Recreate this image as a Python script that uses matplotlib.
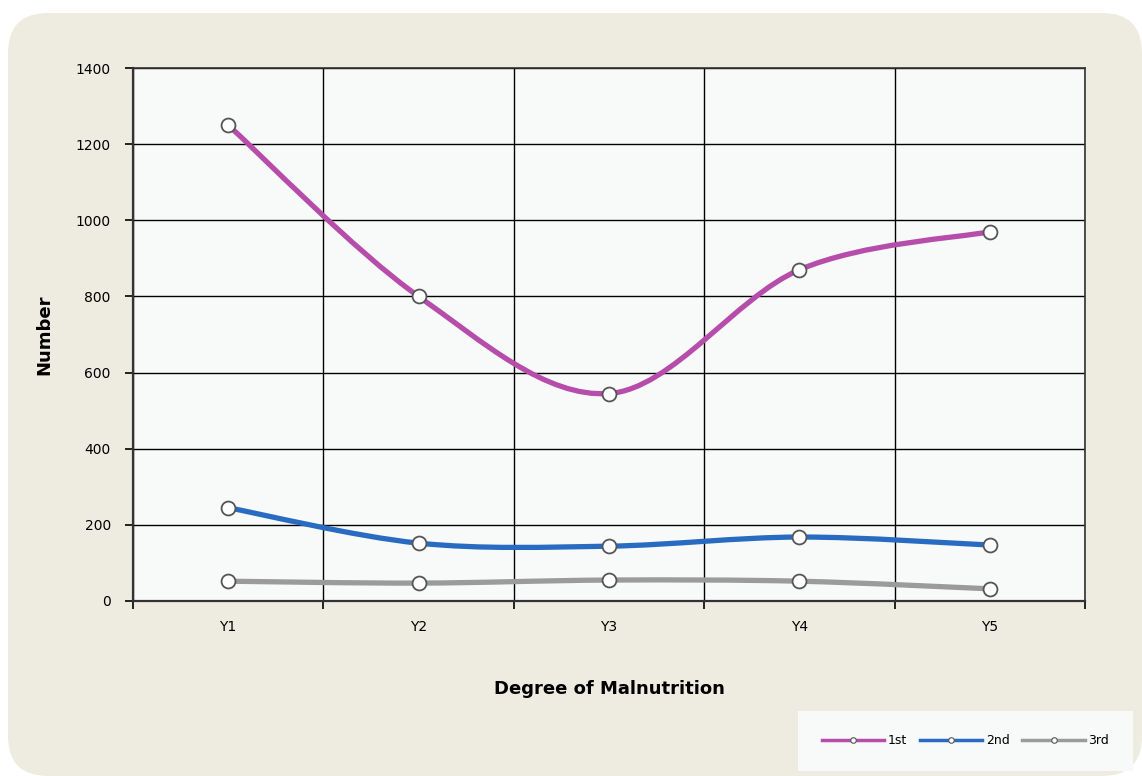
import numpy as np
import matplotlib.pyplot as plt
from matplotlib.path import Path
from matplotlib.patches import PathPatch, FancyBboxPatch
from matplotlib.lines import Line2D

categories = ['Y1', 'Y2', 'Y3', 'Y4', 'Y5']
first = [1250, 800, 545, 870, 970]
second = [245, 152, 144, 168, 147]
third = [52, 47, 55, 52, 32]

series = [('1st', first, '#b74dab'), ('2nd', second, '#2a6bc2'), ('3rd', third, '#9b9b9b')]


def smooth_path(x, y):
    # Excel-like smoothed line: cubic Bezier with Catmull-Rom tangents
    x = np.asarray(x, float)
    y = np.asarray(y, float)
    n = len(x)
    verts = [(x[0], y[0])]
    codes = [Path.MOVETO]
    for i in range(n - 1):
        p0 = i - 1 if i > 0 else i
        p3 = i + 2 if i + 2 < n else i + 1
        c1 = (x[i] + (x[i + 1] - x[p0]) / 6, y[i] + (y[i + 1] - y[p0]) / 6)
        c2 = (x[i + 1] - (x[p3] - x[i]) / 6, y[i + 1] - (y[p3] - y[i]) / 6)
        verts += [c1, c2, (x[i + 1], y[i + 1])]
        codes += [Path.CURVE4] * 3
    return Path(verts, codes)


fig = plt.figure(figsize=(11.42, 7.76), dpi=100)
fig.patch.set_facecolor('white')

bg = FancyBboxPatch((8 / 1142, 0), 1 - 8 / 1142, 1 - 13 / 776,
                    boxstyle='round,pad=0,rounding_size=0.035',
                    transform=fig.transFigure, facecolor='#eeece1',
                    edgecolor='none', mutation_aspect=1142 / 776, zorder=-5)
fig.patches.append(bg)

ax = fig.add_axes([133 / 1142, 1 - 601 / 776, (1085 - 133) / 1142, (601 - 68) / 776])
ax.set_zorder(2)
ax.set_facecolor('#f8fafa')

xs = np.arange(1, len(categories) + 1)
for name, vals, col in series:
    ax.add_patch(PathPatch(smooth_path(xs, vals), facecolor='none', edgecolor=col,
                           lw=3.8, capstyle='round', zorder=3))
    ax.plot(xs, vals, ls='none', marker='o', ms=10, mfc='white', mec='#555555',
            mew=1.3, zorder=4)

ax.set_xlim(0.5, 5.5)
ax.set_ylim(0, 1400)
ax.set_yticks(np.arange(0, 1401, 200))
ax.set_xticks(np.arange(0.5, 5.6, 1))
ax.set_xticklabels([])
ax.set_xticks(xs, minor=True)
ax.set_xticklabels(categories, minor=True)
ax.tick_params(axis='x', which='minor', length=0, pad=14, labelsize=10)
ax.tick_params(axis='x', which='major', length=6, width=1.2, direction='out')
ax.tick_params(axis='y', length=6, width=1.2, direction='out', labelsize=10, pad=10)
ax.grid(True, which='major', color='black', lw=1.0, zorder=1)
ax.set_axisbelow(True)
for s in ax.spines.values():
    s.set_color('#333333')
    s.set_linewidth(1.2)
ax.spines['left'].set_linewidth(1.6)
ax.spines['bottom'].set_linewidth(1.6)

ax.set_xlabel('Degree of Malnutrition', fontsize=13, fontweight='bold', labelpad=33)
ax.set_ylabel('Number', fontsize=13, fontweight='bold', labelpad=16)

handles = [Line2D([0], [0], color=col, lw=2.5, marker='o', ms=4, mfc='white',
                  mec='#555555', mew=0.8) for _, _, col in series]
leg = fig.legend(handles, [s[0] for s in series], loc='lower right',
                 bbox_to_anchor=(1133 / 1142, 5 / 776), ncol=3, fontsize=9,
                 frameon=True, fancybox=False, handlelength=5, columnspacing=1.0,
                 handletextpad=0.3, borderpad=1.9, borderaxespad=0)
leg.get_frame().set_facecolor('#f8fafa')
leg.get_frame().set_edgecolor('none')
leg.get_frame().set_alpha(1)

fig.savefig('out.png', dpi=100, facecolor=fig.get_facecolor())
